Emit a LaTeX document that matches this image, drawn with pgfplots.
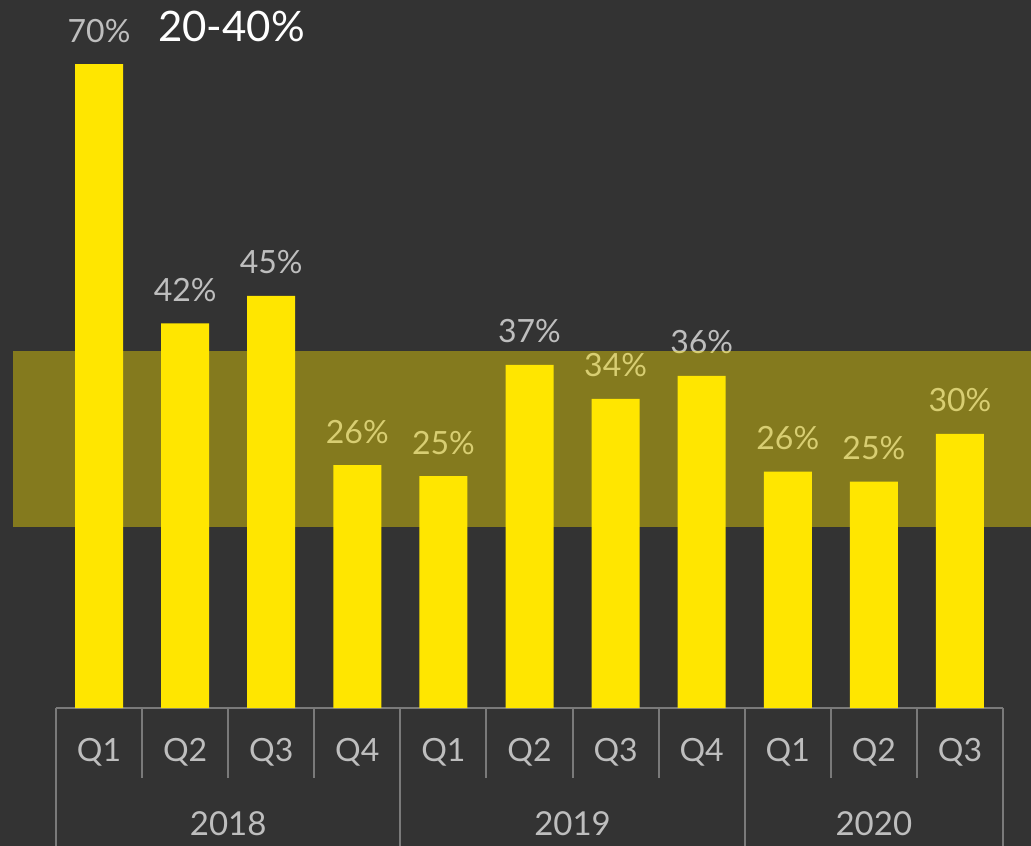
\documentclass[border=0pt]{standalone}
\usepackage{pgfplots}
\pgfplotsset{compat=1.18}
\usepackage{pgfplotstable}
\usepackage{fontspec}
\setmainfont{Lato}
\definecolor{bg}{HTML}{333333}
\definecolor{ey}{HTML}{FFE600}
\definecolor{lbl}{HTML}{BEBEBE}
\definecolor{sep}{HTML}{7A7A7A}
\pgfplotstableread{
x v
0 70
1 41.8
2 44.8
3 26.4
4 25.2
5 37.3
6 33.6
7 36.1
8 25.7
9 24.6
10 29.8
}\datatable
\pgfplotsset{common/.style={
  at={(56bp,138bp)}, anchor=south west,
  scale only axis, width=947bp, height=708bp,
  xmin=-0.5, xmax=10.5, ymin=0, ymax=76.96,
  clip=false}}
\begin{document}
\begin{tikzpicture}
\fill[bg] (0,0) rectangle (1031bp,846bp);
\path[use as bounding box] (0,0) rectangle (1031bp,846bp);
\begin{axis}[
  common,
  hide y axis,
  axis x line*=bottom,
  x axis line style={sep, line width=2bp, -},
  xtick=data,
  xticklabels={Q1,Q2,Q3,Q4,Q1,Q2,Q3,Q4,Q1,Q2,Q3},
  xtick style={draw=none},
  xticklabel style={font=\fontsize{32bp}{38bp}\selectfont, text=lbl, anchor=center, yshift=-44bp},
  /pgf/number format/assume math mode=true,
]
\addplot[ybar, bar width=48bp, fill=ey, draw=none,
  nodes near coords={\pgfmathprintnumber[fixed,precision=0,assume math mode=true]{\pgfplotspointmeta}\%},
  every node near coord/.append style={font=\fontsize{32bp}{38bp}\selectfont, text=lbl, anchor=base, inner sep=0pt, yshift=22bp}]
  table[x=x,y=v]{\datatable};
\pgfplotsinvokeforeach{0.5,1.5,2.5,4.5,5.5,6.5,8.5,9.5}{
  \draw[sep, line width=2bp] (axis cs:#1,0) -- (axis cs:#1,-7.6);
}
\pgfplotsinvokeforeach{-0.5,3.5,7.5,10.5}{
  \draw[sep, line width=2bp] (axis cs:#1,0) -- (axis cs:#1,-15.5);
}
\node[text=lbl, font=\fontsize{33bp}{38bp}\selectfont] at (axis cs:1.5,-12.6) {2018};
\node[text=lbl, font=\fontsize{33bp}{38bp}\selectfont] at (axis cs:5.5,-12.6) {2019};
\node[text=lbl, font=\fontsize{33bp}{38bp}\selectfont] at (axis cs:9,-12.6) {2020};
\node[text=white, font=\fontsize{42bp}{48bp}\selectfont, anchor=base west, inner sep=0pt] at (axis cs:0.685,72.4) {20-40\%};
\end{axis}
\begin{axis}[common, hide axis]
\fill[ey, opacity=0.4] (axis cs:-1,19.7) rectangle (axis cs:10.9,38.8);
\end{axis}
\end{tikzpicture}
\end{document}
